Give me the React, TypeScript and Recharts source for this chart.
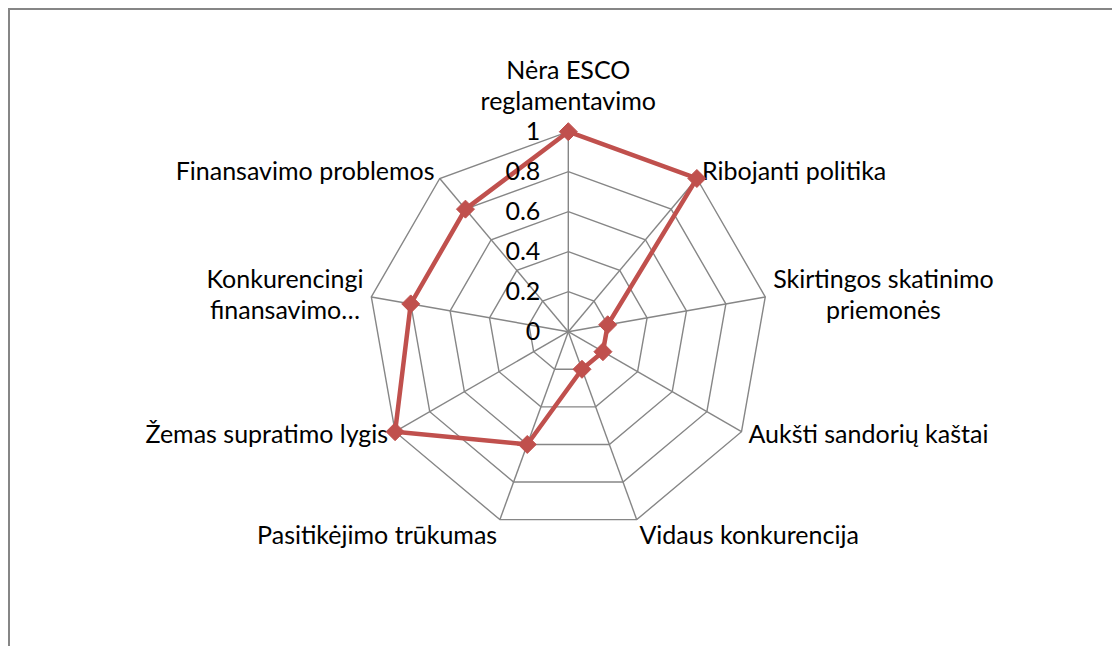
import React from 'react';
import { RadarChart, Radar, PolarGrid, PolarAngleAxis, PolarRadiusAxis } from 'recharts';

const categories = [
  'Nėra ESCO reglamentavimo',
  'Ribojanti politika',
  'Skirtingos skatinimo priemonės',
  'Aukšti sandorių kaštai',
  'Vidaus konkurencija',
  'Pasitikėjimo trūkumas',
  'Žemas supratimo lygis',
  'Konkurencingi finansavimo…',
  'Finansavimo problemos',
];

const labelLines = [
  ['Nėra ESCO', 'reglamentavimo'],
  ['Ribojanti politika'],
  ['Skirtingos skatinimo', 'priemonės'],
  ['Aukšti sandorių kaštai'],
  ['Vidaus konkurencija'],
  ['Pasitikėjimo trūkumas'],
  ['Žemas supratimo lygis'],
  ['Konkurencingi', 'finansavimo…'],
  ['Finansavimo problemos'],
];

const values = [1, 1, 0.2, 0.2, 0.2, 0.6, 1, 0.8, 0.8];

const radiusTicks = [0, 0.2, 0.4, 0.6, 0.8, 1];

const data = categories.map((name, i) => ({ name, value: values[i] }));

const W = 1110;
const H = 640;
const CX = 558.3;
const CY = 321.7;
const R = 200;
const FONT = 'Lato, "Open Sans", sans-serif';
const FS = 25;
const LINE = 31;
const RED = '#C0504D';
const GRID = '#868686';

let ctx: CanvasRenderingContext2D | null = null;
function measure(s: string) {
  if (!ctx) {
    const c = document.createElement('canvas');
    ctx = c.getContext('2d');
  }
  if (!ctx) return s.length * FS * 0.5;
  ctx.font = `${FS}px Lato`;
  return ctx.measureText(s).width;
}

function AngleTick(props: any) {
  const { payload, index } = props;
  const lines = labelLines[index] || [String(payload.value)];
  const rad = (payload.coordinate * Math.PI) / 180;
  const dx = Math.cos(rad);
  const dy = -Math.sin(rad);
  const px = CX + (R + 8) * dx;
  const py = CY + (R + 8) * dy;
  let anchor: 'start' | 'end' | 'middle' = 'middle';
  if (dx > 0.01) anchor = 'start';
  else if (dx < -0.01) anchor = 'end';
  let centerY = py;
  if (dy < -0.95) centerY = py - 37;
  else if (dy > 0.9) centerY = py + 9.5;
  const n = lines.length;
  let x = px;
  let ta: string = anchor;
  if (n > 1 && anchor !== 'middle') {
    const bw = Math.max(...lines.map(measure));
    x = anchor === 'start' ? px + bw / 2 : px - bw / 2;
    ta = 'middle';
  }
  return (
    <g>
      {lines.map((l, i) => (
        <text
          key={i}
          x={x}
          y={centerY + 7.5 + (i - (n - 1) / 2) * LINE}
          textAnchor={ta as any}
          fontFamily={FONT}
          fontSize={FS}
          fill="#000"
        >
          {l}
        </text>
      ))}
    </g>
  );
}

function RadiusTick(props: any) {
  const { x, y, payload } = props;
  return (
    <text x={x - 28} y={y + 8.5} textAnchor="end" fontFamily={FONT} fontSize={FS} fill="#000">
      {String(payload.value)}
    </text>
  );
}

function Diamond(props: any) {
  const { cx, cy, index } = props;
  const s = 9;
  return (
    <path
      key={`d-${index}`}
      d={`M${cx},${cy - s} L${cx + s},${cy} L${cx},${cy + s} L${cx - s},${cy} Z`}
      fill={RED}
      stroke={RED}
      strokeWidth={1}
    />
  );
}

export default function App() {
  return (
    <div
      style={{
        position: 'fixed',
        left: 8,
        top: 8,
        width: W,
        height: H,
        borderTop: `2px solid ${GRID}`,
        borderLeft: `2px solid ${GRID}`,
        background: '#fff',
      }}
    >
      <RadarChart width={W} height={H} data={data} cx={CX} cy={CY} outerRadius={R} startAngle={90} endAngle={-270}>
        <PolarGrid gridType="polygon" stroke={GRID} strokeWidth={1.4} />
        <PolarAngleAxis dataKey="name" tick={<AngleTick />} axisLine={false} tickLine={false} />
        <PolarRadiusAxis
          angle={90}
          domain={[0, 1]}
          ticks={radiusTicks as any}
          tick={<RadiusTick />}
          axisLine={false}
          tickLine={false}
        />
        <Radar
          dataKey="value"
          stroke={RED}
          strokeWidth={4.5}
          fill="none"
          fillOpacity={0}
          dot={(p: any) => <Diamond key={`dot-${p.index}`} {...p} />}
          isAnimationActive={false}
        />
      </RadarChart>
    </div>
  );
}
